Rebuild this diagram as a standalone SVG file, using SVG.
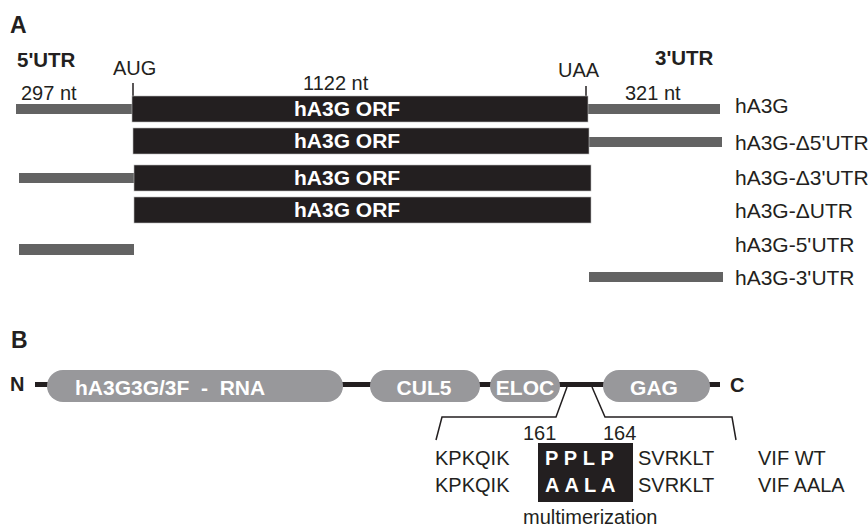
<svg xmlns="http://www.w3.org/2000/svg" width="868" height="530" viewBox="0 0 868 530">
<style>
text{font-family:"Liberation Sans",Arial,sans-serif;font-size:20px;fill:#231f20}
.b{font-weight:bold}
.w{fill:#fff;font-weight:bold}
.lab{font-size:21px}
.orf{fill:#231f20;stroke:#bbb;stroke-width:0.6}
.utr{fill:#636363}
.pill{fill:#98989b}
.ln{stroke:#231f20;fill:none}
</style>
<rect width="868" height="530" fill="#fff"/>
<g id="panelA">
<text class="b" x="10" y="33" style="font-size:23px">A</text>
<text class="b" x="17" y="67" style="font-size:20.5px">5'UTR</text>
<text class="b" x="655" y="65" style="font-size:20.5px">3'UTR</text>
<text x="113" y="75">AUG</text>
<text x="558" y="77">UAA</text>
<text x="21" y="100">297 nt</text>
<text x="303" y="90">1122 nt</text>
<text x="625" y="100">321 nt</text>
<g id="ticks">
<line class="ln" x1="133" y1="83" x2="133" y2="97" stroke-width="1.5"/>
<line class="ln" x1="586" y1="86" x2="586" y2="97" stroke-width="1.5"/>
</g>
<g id="row-hA3G">
<rect class="utr" x="16" y="104" width="117" height="10"/>
<rect class="utr" x="587" y="104" width="133" height="10"/>
<rect class="orf" x="132" y="96" width="456" height="26"/>
<text class="w lab" x="294" y="116">hA3G ORF</text>
<text class="lab" x="735" y="113">hA3G</text>
</g>
<g id="row-d5">
<rect class="utr" x="588" y="137" width="134" height="10"/>
<rect class="orf" x="133" y="128" width="456" height="26"/>
<text class="w lab" x="294" y="148">hA3G ORF</text>
<text class="lab" x="735" y="150">hA3G-Δ5'UTR</text>
</g>
<g id="row-d3">
<rect class="utr" x="19" y="173" width="116" height="10"/>
<rect class="orf" x="134" y="165" width="457" height="26"/>
<text class="w lab" x="294" y="185">hA3G ORF</text>
<text class="lab" x="735" y="185">hA3G-Δ3'UTR</text>
</g>
<g id="row-dUTR">
<rect class="orf" x="134" y="197" width="457" height="26"/>
<text class="w lab" x="294" y="217">hA3G ORF</text>
<text class="lab" x="735" y="218">hA3G-ΔUTR</text>
</g>
<g id="row-5UTR">
<rect class="utr" x="19" y="244" width="115" height="11"/>
<text class="lab" x="735" y="252">hA3G-5'UTR</text>
</g>
<g id="row-3UTR">
<rect class="utr" x="589" y="272" width="134" height="10"/>
<text class="lab" x="735" y="285">hA3G-3'UTR</text>
</g>
</g>
<g id="panelB">
<text class="b" x="11" y="348" style="font-size:23px">B</text>
<g id="connectors">
<line class="ln" x1="35" y1="384.5" x2="720" y2="384.5" stroke-width="5"/>
<polyline class="ln" points="567,387 556,417 442,417 436,440" stroke-width="1.5"/>
<polyline class="ln" points="592,387 605,417 732,417 736,440" stroke-width="1.5"/>
</g>
<text class="b" x="10" y="391">N</text>
<text class="b" x="730" y="392">C</text>
<g id="dom-rna">
<rect class="pill" x="47" y="370" width="296" height="32" rx="16"/>
<text class="w lab" x="75" y="395" xml:space="preserve">hA3G3G/3F  -  RNA</text>
</g>
<g id="dom-cul5">
<rect class="pill" x="370" y="370" width="110" height="32" rx="16"/>
<text class="w lab" x="424" y="395" text-anchor="middle">CUL5</text>
</g>
<g id="dom-eloc">
<rect class="pill" x="490" y="370" width="70" height="32" rx="16"/>
<text class="w lab" x="525" y="395" text-anchor="middle">ELOC</text>
</g>
<g id="dom-gag">
<rect class="pill" x="603" y="370" width="107" height="32" rx="16"/>
<text class="w lab" x="654" y="395" text-anchor="middle">GAG</text>
</g>
<g id="motif">
<text x="523" y="440">161</text>
<text x="603" y="440">164</text>
<rect x="538" y="443" width="95" height="59" fill="#231f20"/>
<text class="w" x="545" y="465" letter-spacing="5.5">PPLP</text>
<text class="w" x="545" y="492" letter-spacing="5">AALA</text>
<text x="435" y="465">KPKQIK</text>
<text x="435" y="492">KPKQIK</text>
<text x="638" y="465">SVRKLT</text>
<text x="638" y="492">SVRKLT</text>
<text x="758" y="465">VIF WT</text>
<text x="758" y="492">VIF AALA</text>
<text x="523" y="524">multimerization</text>
</g>
</g>
</svg>
